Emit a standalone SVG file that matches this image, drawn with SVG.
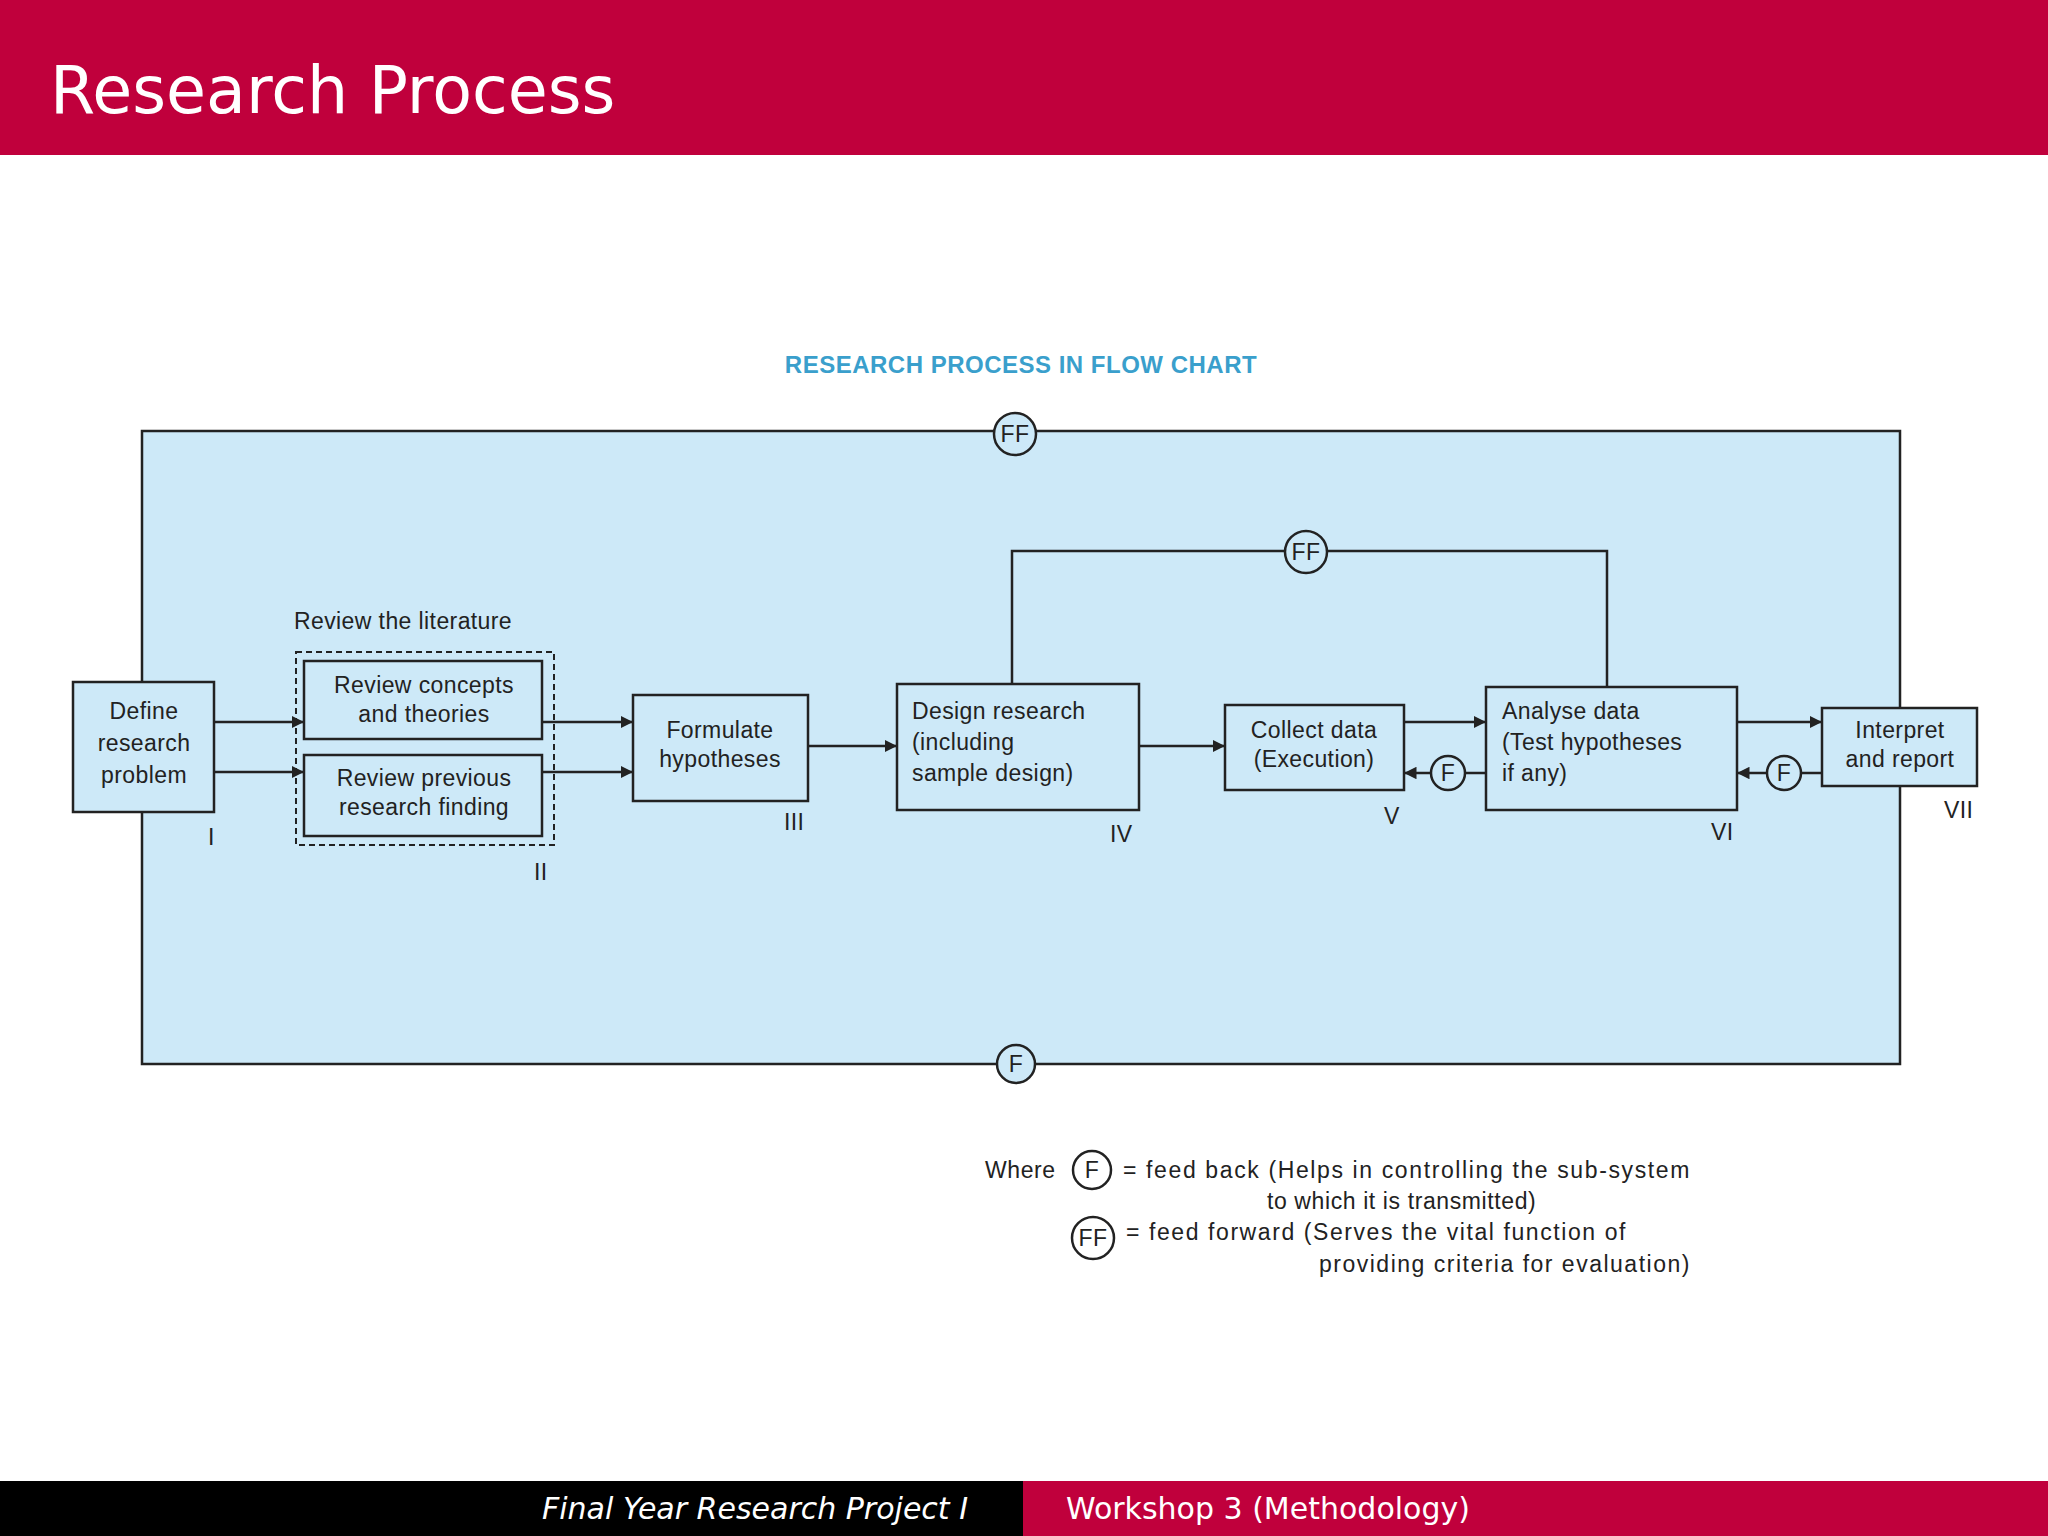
<svg xmlns="http://www.w3.org/2000/svg" width="2048" height="1536" viewBox="0 0 2048 1536">
<style>
.t{font-family:"Liberation Sans",Arial,sans-serif;font-size:23px;fill:#222;letter-spacing:0.4px}
.b{fill:#cde9f8;stroke:#222;stroke-width:2.5}
.c{fill:#cde9f8;stroke:#222;stroke-width:2.5}
.l{stroke:#222;stroke-width:2.5;fill:none}
.g{font-family:"Liberation Sans",Arial,sans-serif;font-size:23px;fill:#222;letter-spacing:0.6px}
</style>
<defs><marker id="a" viewBox="0 0 10 10" refX="10" refY="5" markerWidth="5" markerHeight="5" orient="auto"><path d="M0,0L10,5L0,10z" fill="#222"/></marker></defs>
<rect width="2048" height="1536" fill="#fff"/>
<rect width="2048" height="155" fill="#c0003c"/>
<text x="50" y="113" font-family="'DejaVu Sans',sans-serif" font-size="65" fill="#fff">Research Process</text>
<rect y="1481" width="1023" height="55" fill="#000"/>
<rect x="1023" y="1481" width="1025" height="55" fill="#c0003c"/>
<text x="755" y="1519" text-anchor="middle" font-family="'DejaVu Sans',sans-serif" font-style="italic" font-size="30" fill="#fff">Final Year Research Project I</text>
<text x="1066" y="1519" font-family="'DejaVu Sans',sans-serif" font-size="30" fill="#fff">Workshop 3 (Methodology)</text>
<text x="1021" y="373" text-anchor="middle" font-family="'Liberation Sans',Arial,sans-serif" font-weight="bold" font-size="24" fill="#3a9fcc" letter-spacing="0.5">RESEARCH PROCESS IN FLOW CHART</text>
<rect x="142" y="431" width="1758" height="633" fill="#cde9f8" stroke="#222" stroke-width="2.5"/>
<g id="connectors">
<path class="l" d="M214,722H304" marker-end="url(#a)"/>
<path class="l" d="M214,772H304" marker-end="url(#a)"/>
<path class="l" d="M542,722H633" marker-end="url(#a)"/>
<path class="l" d="M542,772H633" marker-end="url(#a)"/>
<path class="l" d="M808,746H897" marker-end="url(#a)"/>
<path class="l" d="M1139,746H1225" marker-end="url(#a)"/>
<path class="l" d="M1404,722H1486" marker-end="url(#a)"/>
<path class="l" d="M1486,773H1404" marker-end="url(#a)"/>
<path class="l" d="M1737,722H1822" marker-end="url(#a)"/>
<path class="l" d="M1822,773H1737" marker-end="url(#a)"/>
<path class="l" d="M1012,684V551H1607V687"/>
</g>
<g id="n1"><rect class="b" x="73" y="682" width="141" height="130"/><text class="t" text-anchor="middle" x="144" y="719">Define</text><text class="t" text-anchor="middle" x="144" y="751">research</text><text class="t" text-anchor="middle" x="144" y="783">problem</text><text class="t" x="208" y="845">I</text></g>
<g id="n2"><text class="t" x="294" y="629">Review the literature</text><rect x="296" y="652" width="258" height="193" fill="none" stroke="#222" stroke-width="2" stroke-dasharray="6,4"/><text class="t" x="534" y="880">II</text>
<rect class="b" x="304" y="661" width="238" height="78"/><text class="t" text-anchor="middle" x="424" y="693">Review concepts</text><text class="t" text-anchor="middle" x="424" y="722">and theories</text>
<rect class="b" x="304" y="755" width="238" height="81"/><text class="t" text-anchor="middle" x="424" y="786">Review previous</text><text class="t" text-anchor="middle" x="424" y="815">research finding</text></g>
<g id="n3"><rect class="b" x="633" y="695" width="175" height="106"/><text class="t" text-anchor="middle" x="720" y="738">Formulate</text><text class="t" text-anchor="middle" x="720" y="767">hypotheses</text><text class="t" x="784" y="830">III</text></g>
<g id="n4"><rect class="b" x="897" y="684" width="242" height="126"/><text class="t" x="912" y="719">Design research</text><text class="t" x="912" y="750">(including</text><text class="t" x="912" y="781">sample design)</text><text class="t" x="1110" y="842">IV</text></g>
<g id="n5"><rect class="b" x="1225" y="705" width="179" height="85"/><text class="t" text-anchor="middle" x="1314" y="738">Collect data</text><text class="t" text-anchor="middle" x="1314" y="767">(Execution)</text><text class="t" x="1384" y="824">V</text></g>
<g id="n6"><rect class="b" x="1486" y="687" width="251" height="123"/><text class="t" x="1502" y="719">Analyse data</text><text class="t" x="1502" y="750">(Test hypotheses</text><text class="t" x="1502" y="781">if any)</text><text class="t" x="1711" y="840">VI</text></g>
<g id="n7"><rect class="b" x="1822" y="708" width="155" height="78"/><text class="t" text-anchor="middle" x="1900" y="738">Interpret</text><text class="t" text-anchor="middle" x="1900" y="767">and report</text><text class="t" x="1944" y="818">VII</text></g>
<g id="circles">
<circle class="c" cx="1015" cy="434" r="21"/><text class="t" text-anchor="middle" x="1015" y="442">FF</text>
<circle class="c" cx="1306" cy="552" r="21"/><text class="t" text-anchor="middle" x="1306" y="560">FF</text>
<circle class="c" cx="1016" cy="1064" r="19"/><text class="t" text-anchor="middle" x="1016" y="1072">F</text>
<circle class="c" cx="1448" cy="773" r="17"/><text class="t" text-anchor="middle" x="1448" y="781">F</text>
<circle class="c" cx="1784" cy="773" r="17"/><text class="t" text-anchor="middle" x="1784" y="781">F</text>
</g>
<g id="legend">
<text class="g" x="985" y="1178">Where</text>
<circle cx="1092" cy="1170" r="19" fill="none" stroke="#222" stroke-width="2.5"/><text class="t" text-anchor="middle" x="1092" y="1178">F</text>
<text class="g" x="1123" y="1178" textLength="567">= feed back (Helps in controlling the sub-system</text>
<text class="g" x="1267" y="1209">to which it is transmitted)</text>
<circle cx="1093" cy="1238" r="21" fill="none" stroke="#222" stroke-width="2.5"/><text class="t" text-anchor="middle" x="1093" y="1246">FF</text>
<text class="g" x="1126" y="1240" textLength="500">= feed forward (Serves the vital function of</text>
<text class="g" x="1319" y="1272" textLength="371">providing criteria for evaluation)</text>
</g>
</svg>
